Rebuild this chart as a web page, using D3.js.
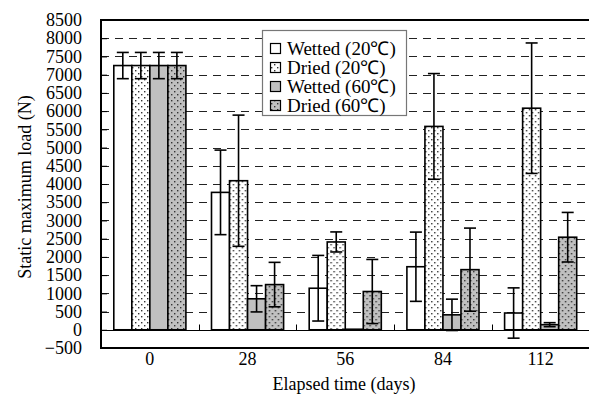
<!DOCTYPE html>
<html>
<head>
<meta charset="utf-8">
<script src="https://cdn.jsdelivr.net/npm/d3@7"></script>
<style>
  html, body { margin: 0; padding: 0; background: #fff; }
  svg { display: block; }
  text { font-family: "Liberation Serif", "Times New Roman", serif; fill: #000; }
</style>
</head>
<body>
<svg id="chart" width="589" height="396"></svg>
<script>
// ---- data ----
const categories = ["0", "28", "56", "84", "112"];
const seriesNames = ["Wetted (20\u2103)", "Dried (20\u2103)", "Wetted (60\u2103)", "Dried (60\u2103)"];
const wetted20    = [7250, 3770, 1140, 1730, 460];
const wetted20Err = [360, 1160, 900, 950, 690];
const dried20     = [7250, 4090, 2410, 5580, 6080];
const dried20Err  = [360, 1800, 275, 1450, 1790];
const wetted60    = [7250, 850, 15, 410, 140];
const wetted60Err = [360, 360, 0, 430, 55];
const dried60     = [7250, 1240, 1050, 1650, 2540];
const dried60Err  = [360, 610, 880, 1140, 680];
const yTicks = d3.range(-500, 8501, 500);

const seriesValues = [wetted20, dried20, wetted60, dried60];
const seriesErrors = [wetted20Err, dried20Err, wetted60Err, dried60Err];

// ---- layout ----
const svg = d3.select("#chart");
const pL = 101, pR = 589.5, pT = 20, pB = 348;
const FONT = "'Liberation Serif', 'Times New Roman', serif";

const x = d3.scaleBand().domain(categories).range([pL, pR]).paddingInner(0).paddingOuter(0);
const xs = d3.scaleBand().domain(d3.range(4)).range([0, x.bandwidth()]).paddingInner(0).paddingOuter(0.71);
const y = d3.scaleLinear().domain([-500, 8500]).range([pB, pT]);

// patterns
const defs = svg.append("defs");
function dotPattern(id, bg) {
  const p = defs.append("pattern").attr("id", id).attr("patternUnits", "userSpaceOnUse")
    .attr("width", 6).attr("height", 6);
  p.append("rect").attr("width", 6).attr("height", 6).attr("fill", bg);
  p.append("rect").attr("x", 1).attr("y", 1).attr("width", 1.4).attr("height", 1.4).attr("fill", "#333");
  p.append("rect").attr("x", 4).attr("y", 4).attr("width", 1.4).attr("height", 1.4).attr("fill", "#333");
}
dotPattern("dotWhite", "#ffffff");
dotPattern("dotGray", "#c0c0c0");
const fills = ["#ffffff", "url(#dotWhite)", "#c0c0c0", "url(#dotGray)"];

// gridlines
svg.append("g").selectAll("line")
  .data(yTicks.filter(v => v > 0 && v < 8500))
  .join("line")
  .attr("x1", pL).attr("x2", pR)
  .attr("y1", d => Math.round(y(d)) + 0.5).attr("y2", d => Math.round(y(d)) + 0.5)
  .attr("stroke", "#222").attr("stroke-width", 1).attr("stroke-dasharray", "8,6");

// zero line
const y0 = Math.round(y(0)) + 0.5;
svg.append("line").attr("x1", pL).attr("x2", pR).attr("y1", y0).attr("y2", y0)
  .attr("stroke", "#000").attr("stroke-width", 1);
// category separators on zero line (pointing up)
svg.append("g").selectAll("line")
  .data(categories.slice(1))
  .join("line")
  .attr("x1", d => Math.round(x(d)) + 0.5).attr("x2", d => Math.round(x(d)) + 0.5)
  .attr("y1", y0).attr("y2", y0 - 6)
  .attr("stroke", "#000").attr("stroke-width", 1);

// bars
const groups = svg.append("g").selectAll("g")
  .data(categories)
  .join("g")
  .attr("transform", d => `translate(${x(d)},0)`);

seriesValues.forEach((vals, si) => {
  groups.append("rect")
    .attr("x", xs(si))
    .attr("width", xs.bandwidth())
    .attr("y", (d, i) => y(Math.max(0, vals[i])))
    .attr("height", (d, i) => Math.abs(y(vals[i]) - y(0)))
    .attr("fill", fills[si])
    .attr("stroke", "#000").attr("stroke-width", 1.6);
});

// error bars
seriesValues.forEach((vals, si) => {
  const errs = seriesErrors[si];
  groups.each(function(d, i) {
    if (!errs[i]) return;
    const g = d3.select(this);
    const cx = xs(si) + xs.bandwidth() / 2;
    const hi = y(vals[i] + errs[i]), lo = y(vals[i] - errs[i]);
    g.append("line").attr("x1", cx).attr("x2", cx).attr("y1", hi).attr("y2", lo)
      .attr("stroke", "#000").attr("stroke-width", 1.6);
    [hi, lo].forEach(yy => {
      g.append("line").attr("x1", cx - 6).attr("x2", cx + 6).attr("y1", yy).attr("y2", yy)
        .attr("stroke", "#000").attr("stroke-width", 1.6);
    });
  });
});

// y axis
const yAxis = d3.axisLeft(y).tickValues(yTicks).tickSize(-6).tickPadding(19).tickFormat(d3.format("d"));
const gy = svg.append("g").attr("transform", `translate(${pL},0)`).call(yAxis);
gy.select(".domain").remove();
gy.selectAll(".tick line").attr("stroke", "#000");
gy.selectAll("text").attr("font-size", 18).attr("font-family", FONT);

// x axis labels
const xAxis = d3.axisBottom(x).tickSize(0).tickPadding(4);
const gx = svg.append("g").attr("transform", `translate(0,${pB})`).call(xAxis);
gx.select(".domain").remove();
gx.selectAll("text").attr("font-size", 18).attr("font-family", FONT);

// frame
svg.append("line").attr("x1", pL).attr("x2", pL).attr("y1", pT - 1).attr("y2", pB + 1)
  .attr("stroke", "#000").attr("stroke-width", 2);
svg.append("line").attr("x1", pL - 1).attr("x2", pR).attr("y1", pT).attr("y2", pT)
  .attr("stroke", "#000").attr("stroke-width", 2);
svg.append("line").attr("x1", pL - 1).attr("x2", pR).attr("y1", pB).attr("y2", pB)
  .attr("stroke", "#000").attr("stroke-width", 2);

// axis titles
svg.append("text")
  .attr("transform", `translate(27,187) rotate(-90)`)
  .attr("text-anchor", "middle").attr("dominant-baseline", "middle")
  .attr("font-size", 18).attr("font-family", FONT).text("Static maximum load (N)");
svg.append("text")
  .attr("x", 344).attr("y", 390)
  .attr("text-anchor", "middle").attr("font-size", 18).attr("font-family", FONT)
  .text("Elapsed time (days)");

// legend
const lg = svg.append("g");
lg.append("rect").attr("x", 262.5).attr("y", 30.5).attr("width", 144).attr("height", 85)
  .attr("fill", "#fff").attr("stroke", "#777").attr("stroke-width", 1.2);
const rowY = [48.5, 67.5, 86.5, 105.5];
seriesNames.forEach((name, i) => {
  lg.append("rect").attr("x", 270.5).attr("y", rowY[i] - 5).attr("width", 10).attr("height", 10)
    .attr("fill", fills[i]).attr("stroke", "#000").attr("stroke-width", 1.2);
  lg.append("text").attr("x", 287).attr("y", rowY[i] + 6.5)
    .attr("font-size", 19).attr("font-family", FONT).text(name);
});
</script>
</body>
</html>
